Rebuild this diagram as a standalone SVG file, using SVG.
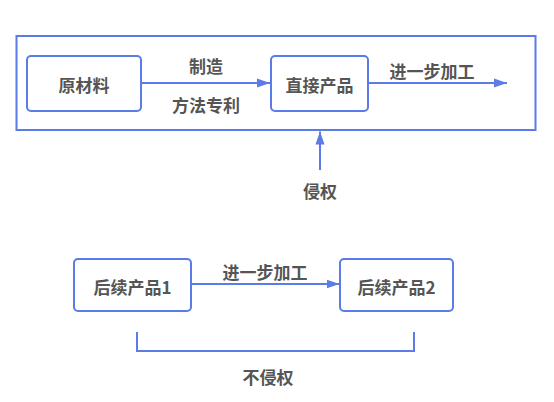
<svg xmlns="http://www.w3.org/2000/svg" width="554" height="402" viewBox="0 0 554 402">
<defs>
<style>
.box{fill:#fff;stroke:#5b7be6;stroke-width:2}
.frame{fill:none;stroke:#5b7be6;stroke-width:2}
.ln{fill:none;stroke:#5b7be6;stroke-width:2}
text{font-family:"Noto Sans CJK SC","Liberation Sans",sans-serif;font-size:17px;font-weight:bold;fill:#555;text-anchor:middle;dominant-baseline:central}
</style>
<marker id="ah" markerUnits="userSpaceOnUse" markerWidth="14" markerHeight="10" refX="13" refY="5" orient="auto">
<path d="M0,0.5 L13,5 L0,9.5 z" fill="#5b7be6"/>
</marker>
</defs>
<rect width="554" height="402" fill="#fff"/>
<rect class="frame" x="16.5" y="36" width="519" height="94"/>
<g id="n-raw"><rect class="box" x="27" y="56" width="114" height="55" rx="4"/><text x="84" y="84">原材料</text></g>
<g id="n-direct"><rect class="box" x="271" y="56" width="97" height="55" rx="4"/><text x="319.5" y="84">直接产品</text></g>
<g id="n-p1"><rect class="box" x="74" y="259" width="117" height="52" rx="4"/><text x="132.5" y="286">后续产品1</text></g>
<g id="n-p2"><rect class="box" x="340" y="259" width="113" height="52" rx="4"/><text x="396.5" y="286">后续产品2</text></g>
<g id="connectors">
<line class="ln" x1="141" y1="83" x2="270" y2="83" marker-end="url(#ah)"/>
<line class="ln" x1="368" y1="83" x2="507" y2="83" marker-end="url(#ah)"/>
<line class="ln" x1="320" y1="170" x2="320" y2="131.5" marker-end="url(#ah)"/>
<line class="ln" x1="191" y1="284" x2="339.5" y2="284" marker-end="url(#ah)"/>
<polyline class="ln" points="137,332 137,351 414,351 414,332"/>
</g>
<g id="labels">
<text x="206" y="65">制造</text>
<text x="206" y="104">方法专利</text>
<text x="432" y="70">进一步加工</text>
<text x="320" y="190">侵权</text>
<text x="265" y="271">进一步加工</text>
<text x="268" y="376">不侵权</text>
</g>
</svg>
